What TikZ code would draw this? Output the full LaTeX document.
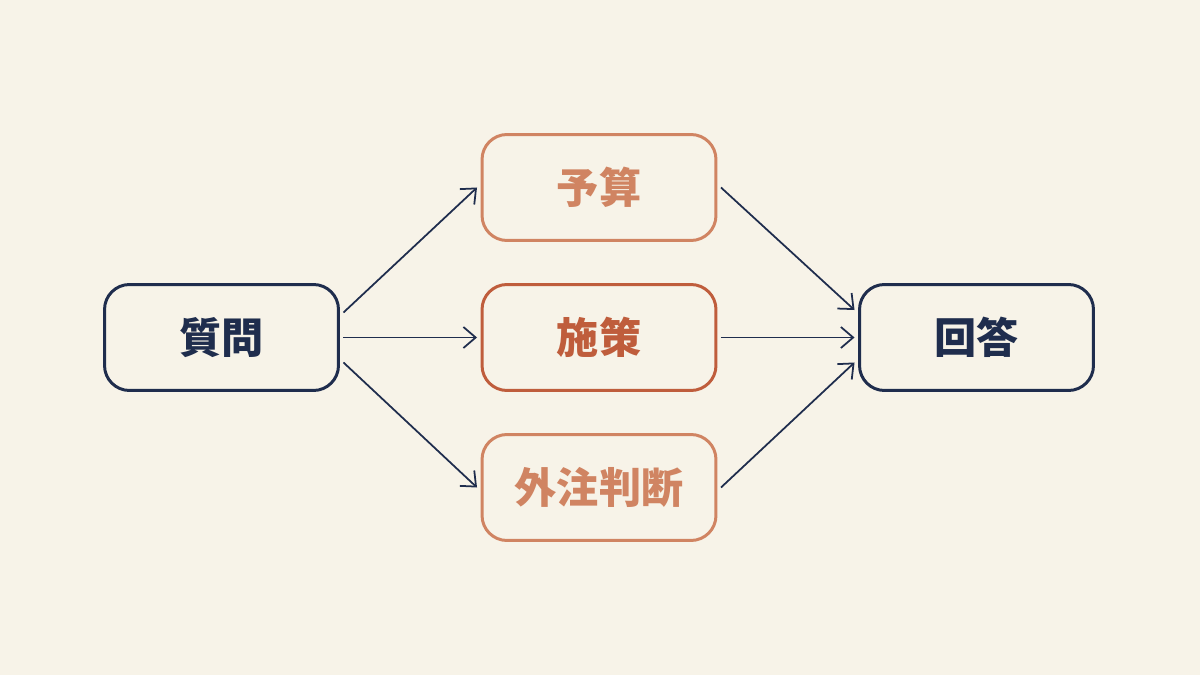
\documentclass[tikz,border=0pt]{standalone}
\usepackage{fontspec}
\newfontfamily\cjk{Noto Sans CJK JP}
\usetikzlibrary{arrows.meta}
\definecolor{bg}{HTML}{F7F3E8}
\definecolor{navy}{HTML}{1F2D4D}
\definecolor{peach}{HTML}{D08462}
\definecolor{rust}{HTML}{BF5D3C}
\begin{document}
\begin{tikzpicture}[x=0.02cm,y=-0.02cm,
 box/.style={draw,line width=1.7pt,rounded corners=0.5cm,minimum width=4.68cm,minimum height=2.12cm,font=\cjk\bfseries\fontsize{24}{28}\selectfont,fill=bg},
 arr/.style={draw=navy,line width=1pt,-{Straight Barb[length=7pt,width=12pt]}}]
\fill[bg] (0,0) rectangle (1200,675);
\node[box,draw=navy,text=navy] (q) at (221.5,337.5) {質問};
\node[box,draw=peach,text=peach] (b) at (599,187.5) {予算};
\node[box,draw=rust,text=rust] (m) at (599,337.5) {施策};
\node[box,draw=peach,text=peach] (o) at (599,487.5) {外注判断};
\node[box,draw=navy,text=navy] (a) at (976.5,337.5) {回答};
\draw[arr] ([shift={(2pt,0.5cm)}]q.east) -- ([xshift=-2pt]b.west);
\draw[arr] ([xshift=2pt]q.east) -- ([xshift=-2pt]m.west);
\draw[arr] ([shift={(2pt,-0.5cm)}]q.east) -- ([xshift=-2pt]o.west);
\draw[arr] ([xshift=2pt]b.east) -- ([shift={(-2pt,0.55cm)}]a.west);
\draw[arr] ([xshift=2pt]m.east) -- ([xshift=-2pt]a.west);
\draw[arr] ([xshift=2pt]o.east) -- ([shift={(-2pt,-0.5cm)}]a.west);
\end{tikzpicture}
\end{document}
